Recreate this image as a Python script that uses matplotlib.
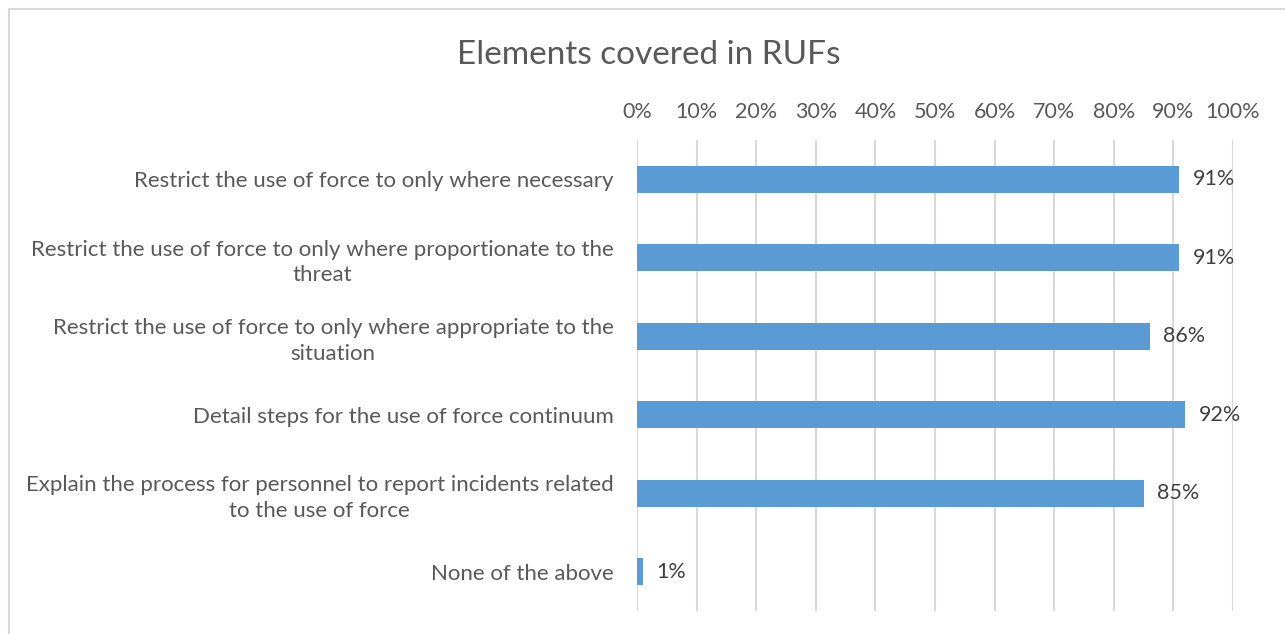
import matplotlib.pyplot as plt
from matplotlib.patches import Rectangle

# Survey results: share of RUFs covering each element
categories = [
    'Restrict the use of force to only where necessary',
    'Restrict the use of force to only where proportionate to the\nthreat',
    'Restrict the use of force to only where appropriate to the\nsituation',
    'Detail steps for the use of force continuum',
    'Explain the process for personnel to report incidents related\nto the use of force',
    'None of the above',
]
shares = [91, 91, 86, 92, 85, 1]
ticks = list(range(0, 101, 10))
tick_labels = [f'{t}%' for t in ticks]

plt.rcParams['font.family'] = ['Lato', 'DejaVu Sans']

fig = plt.figure(figsize=(12.85, 6.34), dpi=100)
ax = fig.add_axes([637 / 1285, 1 - 611 / 634, 596 / 1285, 471 / 634])

pos = list(range(len(categories)))
ax.barh(pos, shares, height=0.35, color='#5B9BD5', zorder=3)

for y, v in zip(pos, shares):
    ax.text(v + 2.3, y, f'{v}%', va='center', ha='left', fontsize=15.5, color='#404040')

ax.set_xlim(0, 100)
ax.set_ylim(len(categories) - 0.5, -0.5)
ax.set_xticks(ticks)
ax.set_xticklabels(tick_labels)
ax.xaxis.tick_top()
ax.set_yticks(pos)
ax.set_yticklabels(categories, multialignment='center', linespacing=1.35)
ax.tick_params(axis='x', length=0, pad=13, labelsize=15.5, labelcolor='#595959')
ax.tick_params(axis='y', length=0, pad=17, labelsize=16, labelcolor='#595959')
ax.grid(axis='x', color='#D9D9D9', linewidth=1.5, zorder=0)
for s in ax.spines.values():
    s.set_visible(False)

fig.text(649 / 1285, 1 - 55 / 634, 'Elements covered in RUFs', ha='center', va='center',
         fontsize=24, color='#595959')

# chart frame
fig.patches.append(Rectangle((8.5 / 1285, -0.1), 1.2, 1.1 - 9.5 / 634, transform=fig.transFigure,
                             fill=False, edgecolor='#D9D9D9', linewidth=1.5))

fig.savefig('out.png', dpi=100)
